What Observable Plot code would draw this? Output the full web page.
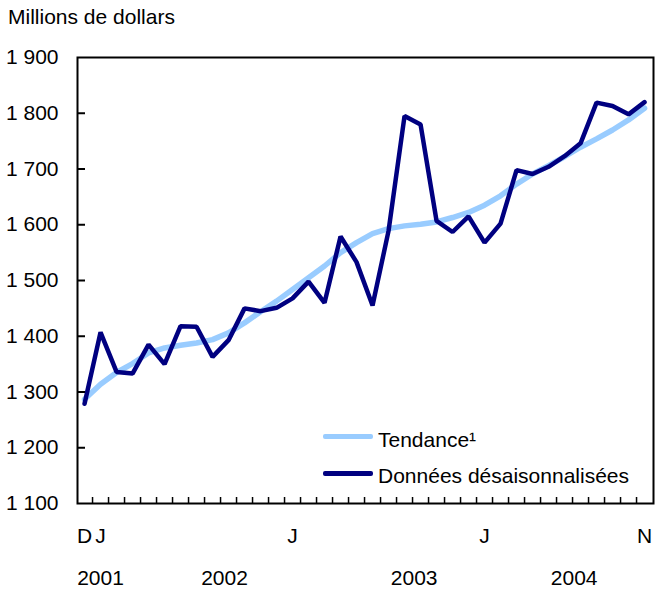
<!DOCTYPE html>
<html><head><meta charset="utf-8">
<script src="https://cdn.jsdelivr.net/npm/d3@7"></script>
<script src="https://cdn.jsdelivr.net/npm/@observablehq/plot@0.6"></script>
<style>
body{margin:0;background:#fff;font-family:"Liberation Sans",Arial,sans-serif;color:#000;}
#wrap{position:relative;width:655px;height:590px;overflow:hidden;}
#title{position:absolute;left:8px;top:6px;font-size:21px;line-height:21px;white-space:nowrap;}
#chart{position:absolute;left:0;top:40px;}
.sw{position:absolute;height:5px;width:50px;border-radius:2px;}
.lt{position:absolute;font-size:21px;line-height:21px;white-space:nowrap;}
</style></head>
<body>
<div id="wrap"><div id="title">Millions de dollars</div><div id="chart"></div><div id="legend"></div></div>
<script>
const months = ["2001-12","2002-01","2002-02","2002-03","2002-04","2002-05","2002-06","2002-07","2002-08","2002-09","2002-10","2002-11","2002-12",
"2003-01","2003-02","2003-03","2003-04","2003-05","2003-06","2003-07","2003-08","2003-09","2003-10","2003-11","2003-12",
"2004-01","2004-02","2004-03","2004-04","2004-05","2004-06","2004-07","2004-08","2004-09","2004-10","2004-11"];
const donnees = [1279,1407,1336,1333,1385,1350,1418,1417,1363,1393,1450,1445,1451,1468,1498,1460,1579,1533,1455,1589,1795,1780,1607,1587,1615,1568,1602,1698,1691,1704,1723,1746,1819,1813,1798,1820];
const tendance = [1287,1314,1335,1351,1370,1379,1384,1388,1394,1406,1424,1444,1463,1484,1505,1526,1550,1568,1584,1593,1598,1601,1605,1613,1622,1635,1652,1673,1691,1706,1722,1739,1754,1770,1788,1809];
const yTicks = [1100,1200,1300,1400,1500,1600,1700,1800,1900];
const monthTickMonths = ["2001-12","2002-01","2003-01","2004-01","2004-11"];
const monthTickLabels = ["D","J","J","J","N"];
const yearLabels = ["2001","2002","2003","2004"];
const yearLabelPos = [1, 8.75, 20.6, 30.6];
const seriesNames = ["Tendance\u00b9","Données désaisonnalisées"];
const seriesColors = ["#99ccff","#000080"];

const W=655, H=550, mL=77, mR=2, mT=17, mB=87;
const plotW = W-mL-mR, plotH = H-mT-mB;
const monthIdx = monthTickMonths.map(m => months.indexOf(m));
const monthMap = new Map(monthIdx.map((v,i)=>[v, monthTickLabels[i]]));
const yearMap = new Map(yearLabelPos.map((v,i)=>[v, yearLabels[i]]));
const bounds = months.slice(1).map((m,i)=>i+0.5);
const fmtY = d => `${Math.floor(d/1000)} ${String(d%1000).padStart(3,"0")}`;

const chart = Plot.plot({
  width: W, height: H, marginLeft: mL, marginRight: mR, marginTop: mT, marginBottom: mB,
  style: {fontFamily: "'Liberation Sans', Arial, sans-serif", fontSize: "21px", color: "#000", background: "#fff"},
  x: {domain: [-0.44, months.length - 0.44], axis: null},
  y: {domain: [1100, 1900], axis: null},
  marks: [
    Plot.line(tendance, {x: (d,i)=>i, y: d=>d, stroke: seriesColors[0], strokeWidth: 5.5}),
    Plot.line(donnees, {x: (d,i)=>i, y: d=>d, stroke: seriesColors[1], strokeWidth: 4.5, strokeLinejoin: "miter"}),
    Plot.ruleY(yTicks.slice(1,-1), {stroke: "#000", strokeWidth: 2, insetRight: plotW - 8}),
    Plot.ruleX(bounds, {stroke: "#000", strokeWidth: 1.5, insetTop: plotH - 6}),
    Plot.axisY(yTicks, {anchor: "left", tickSize: 0, tickPadding: 19, tickFormat: fmtY, fontSize: 21, label: null}),
    Plot.axisX(monthIdx, {anchor: "bottom", tickSize: 0, tickPadding: 25, tickFormat: d => monthMap.get(d), fontSize: 21, label: null}),
    Plot.axisX(yearLabelPos, {anchor: "bottom", tickSize: 0, tickPadding: 67, tickFormat: d => yearMap.get(d), fontSize: 21, label: null}),
    Plot.frame({stroke: "#000", strokeWidth: 2})
  ]
});
document.getElementById("chart").appendChild(chart);

const leg = document.getElementById("legend");
const legRows = [{lineY: 436, textTop: 429}, {lineY: 473, textTop: 465}];
seriesNames.forEach((name, i) => {
  const sw = document.createElement("div");
  sw.className = "sw";
  sw.style.left = "323px"; sw.style.top = (legRows[i].lineY - 2.5) + "px";
  sw.style.background = seriesColors[i];
  leg.appendChild(sw);
  const t = document.createElement("div");
  t.className = "lt";
  t.style.left = "378px"; t.style.top = legRows[i].textTop + "px";
  t.textContent = name;
  leg.appendChild(t);
});
</script>
</body></html>
